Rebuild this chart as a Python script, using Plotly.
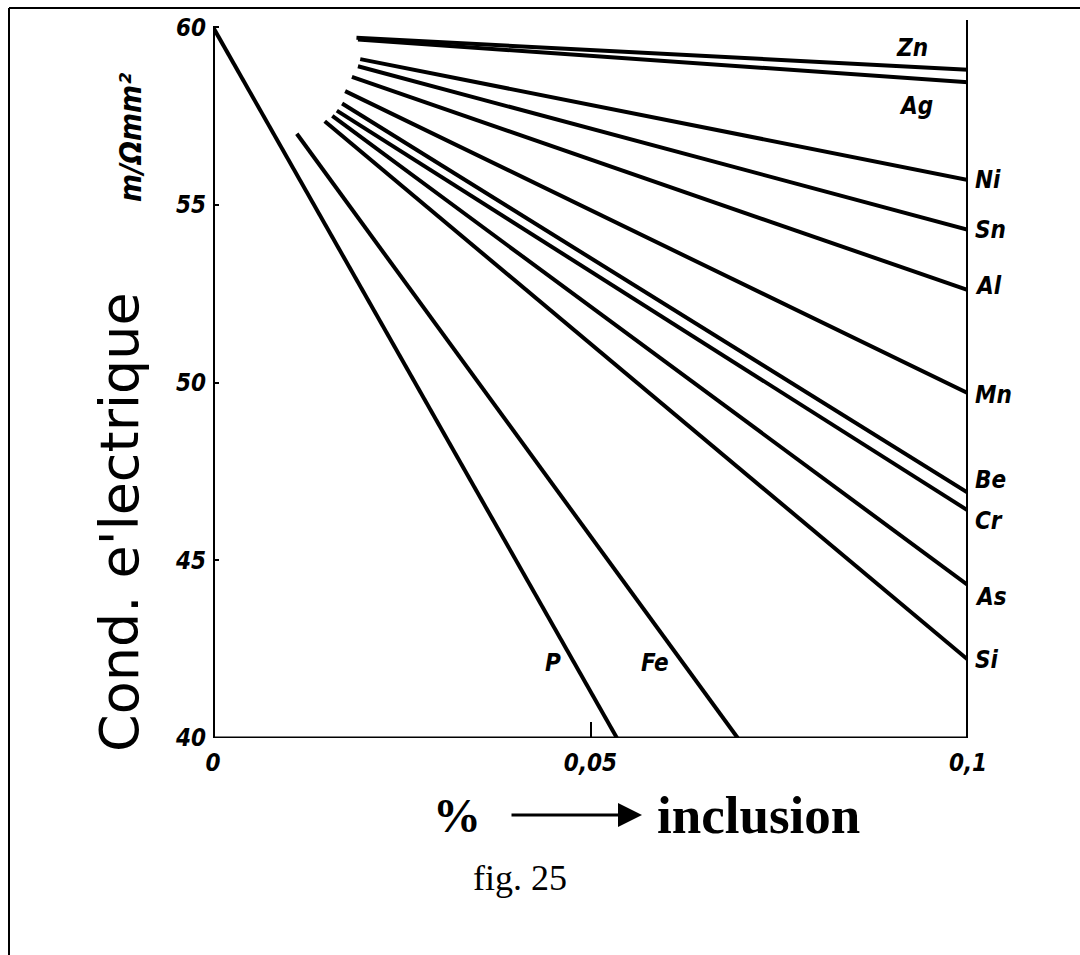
import plotly.graph_objects as go

# Conductivity (m/Ohm.mm^2) of copper vs. % of added element
elements = ["Zn", "Ag", "Ni", "Sn", "Al", "Mn", "Be", "Cr", "As", "Si", "Fe", "P"]
x_start = [0.019, 0.0192, 0.0195, 0.0192, 0.0184, 0.0175, 0.0171, 0.0164, 0.0158, 0.0148, 0.0111, 0.0]
y_start = [59.7, 59.65, 59.1, 58.9, 58.6, 58.2, 57.85, 57.65, 57.5, 57.35, 57.0, 60.0]
x_end = [0.1, 0.1, 0.1, 0.1, 0.1, 0.1, 0.1, 0.1, 0.1, 0.1, 0.0695, 0.0535]
y_end = [58.8, 58.45, 55.7, 54.3, 52.6, 49.7, 46.9, 46.4, 44.3, 42.2, 40.0, 40.0]

x_ticks = [0, 0.05, 0.1]
x_ticktext = ["0", "0,05", "0,1"]
y_ticks = [40, 45, 50, 55, 60]
y_ticktext = ["40", "45", "50", "55", "60"]

X_MIN, X_MAX = 0.0, 0.1
Y_MIN, Y_MAX = 40.0, 60.2

W, H = 1080, 955
ML, MR, MT, MB = 213, 112, 20, 217
PW, PH = W - ML - MR, H - MT - MB


def px_to_paper(px, py):
    return (px - ML) / PW, (H - MB - py) / PH


INK = "black"
hand = dict(family="DejaVu Sans Condensed, DejaVu Sans", color=INK,
            style="italic", weight="bold")

fig = go.Figure()

for name, xs, ys, xe, ye in zip(elements, x_start, y_start, x_end, y_end):
    fig.add_trace(go.Scatter(
        x=[xs, xe], y=[ys, ye], mode="lines", name=name,
        line=dict(color=INK, width=4), showlegend=False, hoverinfo="name",
    ))

# axis frame: left, bottom and right verticals
frame = [
    dict(x0=X_MIN, x1=X_MIN, y0=Y_MIN, y1=60.0, width=4),
    dict(x0=X_MIN, x1=X_MAX, y0=Y_MIN, y1=Y_MIN, width=3),
    dict(x0=X_MAX, x1=X_MAX, y0=Y_MIN, y1=Y_MAX, width=4),
]
for f in frame:
    fig.add_shape(type="line", xref="x", yref="y", x0=f["x0"], x1=f["x1"],
                  y0=f["y0"], y1=f["y1"], line=dict(color=INK, width=f["width"]),
                  layer="above")

# page border (top and left)
bx0, by0 = px_to_paper(9, 8)
bx1, _ = px_to_paper(1080, 8)
_, by1 = px_to_paper(9, 960)
fig.add_shape(type="line", xref="paper", yref="paper", x0=bx0, x1=bx1, y0=by0, y1=by0,
              line=dict(color=INK, width=2))
fig.add_shape(type="line", xref="paper", yref="paper", x0=bx0, x1=bx0, y0=by0, y1=by1,
              line=dict(color=INK, width=2))

# curve labels
label_font = dict(hand, size=24)
idx = {n: i for i, n in enumerate(elements)}
right_side = {"Ni": 0, "Sn": 0, "Al": 4, "Mn": -2, "Be": 13, "Cr": -10, "As": -12, "Si": 0}
for n, ys in right_side.items():
    i = idx[n]
    fig.add_annotation(x=x_end[i], y=y_end[i], text=n, showarrow=False,
                       xanchor="left", yanchor="middle", xshift=5, yshift=ys,
                       font=label_font)
# Zn above its line, Ag below, left of the right axis
fig.add_annotation(x=x_end[idx["Zn"]], y=y_end[idx["Zn"]], text="Zn", showarrow=False,
                   xanchor="center", yanchor="bottom", xshift=-56, yshift=6, font=label_font)
fig.add_annotation(x=x_end[idx["Ag"]], y=y_end[idx["Ag"]], text="Ag", showarrow=False,
                   xanchor="center", yanchor="top", xshift=-52, yshift=-8, font=label_font)
# P and Fe, written beside the lower part of their lines
for n in ["P", "Fe"]:
    i = idx[n]
    yl = 42.1
    t = (y_start[i] - yl) / (y_start[i] - y_end[i])
    xl = x_start[i] + t * (x_end[i] - x_start[i])
    fig.add_annotation(x=xl, y=yl, text=n, showarrow=False, xanchor="right",
                       yanchor="middle", xshift=-12, font=label_font)


def paper_text(px, py, text, font, angle=0):
    x, y = px_to_paper(px, py)
    fig.add_annotation(xref="paper", yref="paper", x=x, y=y, text=text,
                       textangle=angle, showarrow=False,
                       xanchor="center", yanchor="middle", font=font)


# axis titles
paper_text(119, 522, "Cond. e'lectrique", dict(family="DejaVu Sans", size=54, color=INK), -90)
paper_text(131, 138, "m/Ωmm²", dict(hand, size=30), -90)

serif = dict(family="Liberation Serif", color=INK)
paper_text(457, 815, "%", dict(serif, size=48, weight="bold"))
ax_head, ay_head = px_to_paper(642, 815)
fig.add_annotation(xref="paper", yref="paper", x=ax_head, y=ay_head, text="",
                   showarrow=True, ax=-132, ay=0, arrowhead=2, arrowsize=1.6,
                   arrowwidth=3, arrowcolor=INK)
paper_text(758, 815, "inclusion", dict(serif, size=53, weight="bold"))
paper_text(520, 878, "fig. 25", dict(serif, size=36))

tick_font = dict(hand, size=24)
fig.update_layout(
    width=W, height=H,
    margin=dict(l=ML, r=MR, t=MT, b=MB, pad=0),
    paper_bgcolor="white", plot_bgcolor="white",
    showlegend=False,
    xaxis=dict(range=[X_MIN, X_MAX], tickvals=x_ticks, ticktext=x_ticktext,
               showgrid=False, zeroline=False, showline=False,
               ticks="inside", ticklen=16, tickwidth=2, tickcolor=INK,
               ticklabelstandoff=8, tickfont=tick_font),
    yaxis=dict(range=[Y_MIN, Y_MAX], tickvals=y_ticks, ticktext=y_ticktext,
               showgrid=False, zeroline=False, showline=False,
               ticks="inside", ticklen=6, tickwidth=2, tickcolor=INK,
               ticklabelstandoff=6, tickfont=tick_font),
)

fig.write_html("out.html")
